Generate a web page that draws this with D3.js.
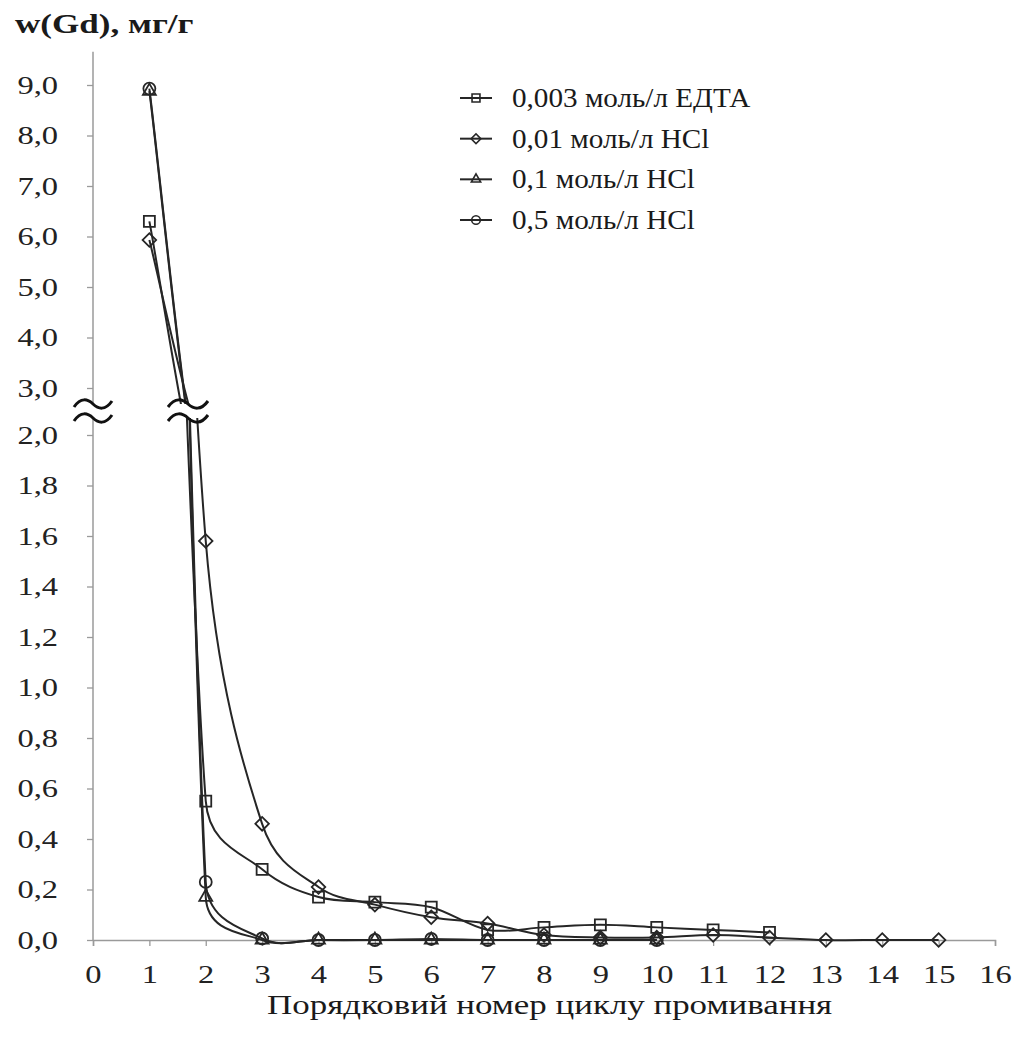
<!DOCTYPE html>
<html><head><meta charset="utf-8">
<script src="https://cdn.jsdelivr.net/npm/d3@7"></script>
<style>body{margin:0;background:#fff} svg{display:block}</style>
</head><body><svg id="c" width="1024" height="1039"></svg>
<script>
// ---- data ----
const yTitle = "w(Gd), мг/г";
const xTitle = "Порядковий номер циклу промивання";
const seriesNames = ["0,003 моль/л ЕДТА", "0,01 моль/л HCl", "0,1 моль/л HCl", "0,5 моль/л HCl"];
const seriesSymbols = ["square", "diamond", "triangle", "circle"];
const cyclesEdta = [1,2,3,4,5,6,7,8,9,10,11,12];
const edta       = [6.30,0.55,0.28,0.17,0.15,0.13,0.04,0.05,0.06,0.05,0.04,0.03];
const cyclesHcl001 = [1,2,3,4,5,6,7,8,9,10,11,12,13,14,15];
const hcl001       = [5.93,1.58,0.46,0.21,0.14,0.09,0.065,0.02,0.01,0.01,0.02,0.01,0.0,0.0,0.0];
const cyclesHcl01 = [1,2,3,4,5,6,7,8,9,10];
const hcl01       = [8.88,0.17,0.0,0.0,0.0,0.0,0.0,0.0,0.0,0.0];
const cyclesHcl05 = [1,2,3,4,5,6,7,8,9,10];
const hcl05       = [8.93,0.23,0.006,0.0,0.0,0.004,0.0,0.0,0.0,0.0];
const xTicks = d3.range(0, 17);
const yTicksLower = [0,0.2,0.4,0.6,0.8,1.0,1.2,1.4,1.6,1.8,2.0];
const yTicksUpper = [3,4,5,6,7,8,9];
const breakValue = 2.5;

// ---- layout ----
const svg = d3.select("#c");
const FONT = "'Liberation Serif','Times New Roman',serif";
const SX = 1.25;
const x = d3.scaleLinear().domain([0, 16]).range([93, 995]);
const yUp = d3.scaleLinear().domain([3, 9]).range([388, 85]);
const yLo = d3.scaleLinear().domain([0, 2]).range([940, 435]);
const breakY = 411;
const fmt = v => d3.format(".1f")(v).replace(".", ",");
const axisColor = "#9a9a9a";
const ink = "#262626";

// axes
svg.append("line").attr("x1", x(0)).attr("x2", x(0))
  .attr("y1", yUp(9.66)).attr("y2", yLo(0))
  .attr("stroke", axisColor).attr("stroke-width", 1.5);
function yAxis(scale, ticks) {
  const g = svg.append("g").attr("transform", `translate(${x(0)},0)`)
    .call(d3.axisLeft(scale).tickValues(ticks).tickFormat(fmt).tickSize(6));
  g.select(".domain").remove();
  g.selectAll("line").attr("stroke", axisColor).attr("stroke-width", 1.3);
  g.selectAll("text").attr("font-family", FONT).attr("font-size", 26).attr("fill", "#222")
    .attr("x", -28).attr("transform", `scale(${SX},1)`);
}
yAxis(yLo, yTicksLower);
yAxis(yUp, yTicksUpper);

const gx = svg.append("g").attr("transform", `translate(0,${yLo(0)})`)
  .call(d3.axisBottom(x).tickValues(xTicks).tickFormat(d3.format("d")).tickSize(6));
gx.select(".domain").attr("stroke", axisColor).attr("stroke-width", 1.5);
gx.selectAll("line").attr("stroke", axisColor).attr("stroke-width", 1.3);
gx.selectAll("text").attr("font-family", FONT).attr("font-size", 26).attr("fill", "#222")
  .attr("y", 43).attr("dy", 0).attr("transform", `scale(${SX},1)`);

// titles
svg.append("text").attr("transform", `translate(15,33) scale(1.3,1)`)
  .attr("font-family", FONT).attr("font-size", 27).attr("font-weight", "bold").attr("fill", "#1a1a1a")
  .text(yTitle);
svg.append("text").attr("transform", `translate(${x(8.1)},1014) scale(1.27,1)`)
  .attr("text-anchor", "middle")
  .attr("font-family", FONT).attr("font-size", 27.5).attr("fill", "#1a1a1a")
  .text(xTitle);

// clip paths
const defs = svg.append("defs");
defs.append("clipPath").attr("id", "clipUp").append("rect")
  .attr("x", 0).attr("y", 0).attr("width", 1024).attr("height", breakY);
defs.append("clipPath").attr("id", "clipLo").append("rect")
  .attr("x", 0).attr("y", breakY).attr("width", 1024).attr("height", 1039 - breakY);

const series = [
  {name: seriesNames[0], sym: seriesSymbols[0], xs: cyclesEdta, ys: edta},
  {name: seriesNames[1], sym: seriesSymbols[1], xs: cyclesHcl001, ys: hcl001},
  {name: seriesNames[2], sym: seriesSymbols[2], xs: cyclesHcl01, ys: hcl01},
  {name: seriesNames[3], sym: seriesSymbols[3], xs: cyclesHcl05, ys: hcl05},
];

function symPath(sym, k) {
  if (sym === "square") return d3.symbol(d3.symbolSquare, 121 * k * k)();
  if (sym === "diamond") return d3.symbol(d3.symbolSquare, 92 * k * k)();
  if (sym === "triangle") return d3.symbol(d3.symbolTriangle, 72 * k * k)();
  return d3.symbol(d3.symbolCircle, 113 * k * k)();
}

// spreadsheet-style smoothed line (bezier with limited handles)
function smoothPath(P) {
  const p = d3.path();
  const dist = (a, b) => Math.hypot(b[0] - a[0], b[1] - a[1]);
  p.moveTo(P[0][0], P[0][1]);
  for (let i = 0; i < P.length - 1; i++) {
    const P0 = P[i - 1] || P[i], P1 = P[i], P2 = P[i + 1], P3 = P[i + 2] || P[i + 1];
    const d12 = dist(P1, P2), d02 = dist(P0, P2), d13 = dist(P1, P3);
    let f1 = 1 / 6, f2 = 1 / 6;
    if (d02 / 6 > d12 / 2) f1 = d12 / (2 * d02);
    if (d13 / 6 > d12 / 2) f2 = d12 / (2 * d13);
    const c1 = [P1[0] + f1 * (P2[0] - P0[0]), P1[1] + f1 * (P2[1] - P0[1])];
    const c2 = [P2[0] - f2 * (P3[0] - P1[0]), P2[1] - f2 * (P3[1] - P1[1])];
    p.bezierCurveTo(c1[0], c1[1], c2[0], c2[1], P2[0], P2[1]);
  }
  return p.toString();
}

series.forEach(s => {
  const ptsUp = s.xs.map((c, i) => [x(c), yUp(s.ys[i])]);
  const ptsLo = s.xs.map((c, i) => [x(c), yLo(s.ys[i])]);
  svg.append("path").attr("d", smoothPath(ptsUp)).attr("clip-path", "url(#clipUp)")
    .attr("fill", "none").attr("stroke", ink).attr("stroke-width", 2);
  svg.append("path").attr("d", smoothPath(ptsLo)).attr("clip-path", "url(#clipLo)")
    .attr("fill", "none").attr("stroke", ink).attr("stroke-width", 2);
});
series.forEach(s => {
  const pts = s.xs.map((c, i) => [c, s.ys[i]]);
  svg.append("g").selectAll("path").data(pts).join("path")
    .attr("d", symPath(s.sym, 1))
    .attr("transform", d => `translate(${x(d[0])},${d[1] > breakValue ? yUp(d[1]) : yLo(d[1])})` + (s.sym === "diamond" ? " rotate(45)" : ""))
    .attr("fill", "none").attr("stroke", ink).attr("stroke-width", 1.8);
});

// break marks
function wave(x0, w, y) {
  return `M${x0},${y + 3} C${x0 + w * 0.18},${y - 7} ${x0 + w * 0.36},${y - 5} ${x0 + w * 0.5},${y} S${x0 + w * 0.82},${y + 7} ${x0 + w},${y - 3}`;
}
function breakMark(cx, w) {
  const x0 = cx - w / 2;
  svg.append("rect").attr("x", x0).attr("y", 404).attr("width", w).attr("height", 14).attr("fill", "#fff");
  [404, 418].forEach(yy => svg.append("path").attr("d", wave(x0, w, yy))
    .attr("fill", "none").attr("stroke", "#111").attr("stroke-width", 3));
}
breakMark(x(0), 38);
breakMark(188, 40);

// legend
const legY = d3.scaleLinear().domain([0, 3]).range([98, 220]);
const leg = svg.append("g");
series.forEach((s, i) => {
  const cy = legY(i);
  leg.append("line").attr("x1", 460).attr("x2", 492).attr("y1", cy).attr("y2", cy)
    .attr("stroke", ink).attr("stroke-width", 2);
  leg.append("path").attr("d", symPath(s.sym, 0.72))
    .attr("transform", `translate(476,${cy})` + (s.sym === "diamond" ? " rotate(45)" : ""))
    .attr("fill", "none").attr("stroke", ink).attr("stroke-width", 1.6);
  leg.append("text").attr("transform", `translate(512,${cy + 9}) scale(1.08,1)`)
    .attr("font-family", FONT).attr("font-size", 27).attr("fill", "#1a1a1a").text(s.name);
});
</script></body></html>
